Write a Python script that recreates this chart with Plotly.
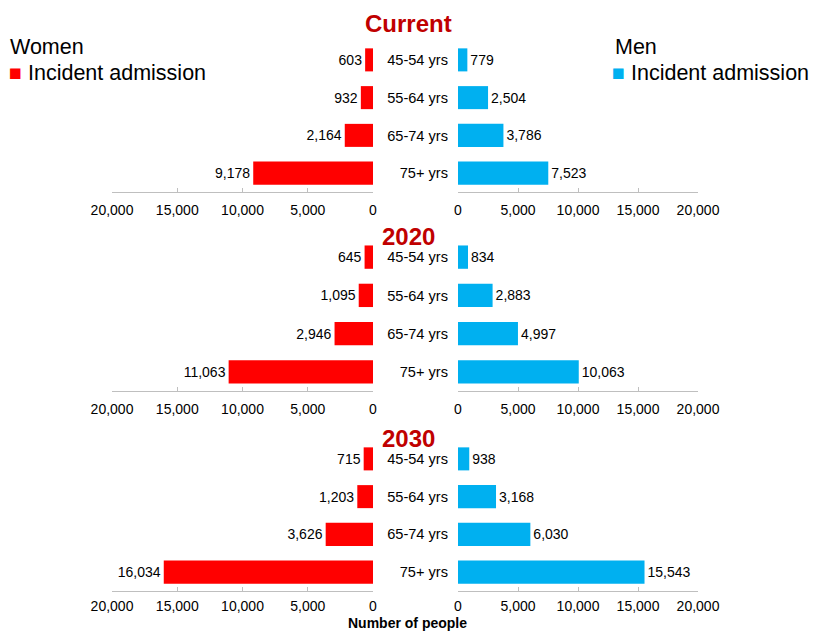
import plotly.graph_objects as go

ages = ["45-54 yrs", "55-64 yrs", "65-74 yrs", "75+ yrs"]
panels = ["Current", "2020", "2030"]
women = {
    "Current": [603, 932, 2164, 9178],
    "2020": [645, 1095, 2946, 11063],
    "2030": [715, 1203, 3626, 16034],
}
men = {
    "Current": [779, 2504, 3786, 7523],
    "2020": [834, 2883, 4997, 10063],
    "2030": [938, 3168, 6030, 15543],
}
tick_vals = [0, 5000, 10000, 15000, 20000]
tick_text = ["0", "5,000", "10,000", "15,000", "20,000"]

# page body has an 8px margin; figure is sized to fit inside the window
OFF = 8
W, H = 824 - 2 * OFF, 641 - 2 * OFF
RED = "#FF0000"
BLUE = "#00B0F0"
TITLE_RED = "#C00000"
FONT = "Liberation Sans, Arial, sans-serif"


def px(x):
    return (x - OFF) / W


def py(y):
    return 1 - (y - OFF) / H


# pixel bands (top, bottom) of each panel's plotting area (window coordinates)
bands = [(41, 192), (238, 391), (440, 591)]
left_dom = [px(112), px(373)]
right_dom = [px(458), px(698)]
title_top = [8, 221, 423]
standoffs = [5, 5, 2]

fig = go.Figure()
layout = dict(
    width=W, height=H,
    margin=dict(l=0, r=0, t=0, b=0, pad=0, autoexpand=False),
    paper_bgcolor="white", plot_bgcolor="white",
    font=dict(family=FONT, size=14, color="black"),
    showlegend=False,
    bargap=0.39,
    annotations=[],
)


def fmt(v):
    return f"{v:,}"


for i, p in enumerate(panels):
    top, bot = bands[i]
    ydom = [py(bot), py(top)]
    xl = f"x{2*i+1}" if i > 0 else "x"
    xr = f"x{2*i+2}"
    yl = f"y{2*i+1}" if i > 0 else "y"
    yr = f"y{2*i+2}"
    fig.add_trace(go.Bar(
        x=women[p], y=ages, orientation="h", xaxis=xl, yaxis=yl,
        marker=dict(color=RED, line=dict(width=0)),
        text=[fmt(v) for v in women[p]], textposition="outside",
        textfont=dict(size=14, color="black", family=FONT),
        cliponaxis=False, name="Incident admission",
    ))
    fig.add_trace(go.Bar(
        x=men[p], y=ages, orientation="h", xaxis=xr, yaxis=yr,
        marker=dict(color=BLUE, line=dict(width=0)),
        text=[fmt(v) for v in men[p]], textposition="outside",
        textfont=dict(size=14, color="black", family=FONT),
        cliponaxis=False, name="Incident admission",
    ))
    xaxis_common = dict(
        showgrid=False, zeroline=False, showline=True, linecolor="#BFBFBF",
        linewidth=1, ticks="inside", ticklen=4, tickcolor="#BFBFBF",
        tickvals=tick_vals, ticktext=tick_text, automargin=False,
        ticklabelstandoff=standoffs[i],
        tickfont=dict(size=14, color="black", family=FONT),
        fixedrange=True,
    )
    kxl = "xaxis" if i == 0 else f"xaxis{2*i+1}"
    kxr = f"xaxis{2*i+2}"
    kyl = "yaxis" if i == 0 else f"yaxis{2*i+1}"
    kyr = f"yaxis{2*i+2}"
    layout[kxl] = dict(xaxis_common, domain=left_dom, range=[20000, 0], anchor=yl)
    layout[kxr] = dict(xaxis_common, domain=right_dom, range=[0, 20000], anchor=yr)
    layout[kyl] = dict(domain=ydom, autorange="reversed", showticklabels=False,
                       showgrid=False, zeroline=False, showline=False, anchor=xl,
                       automargin=False,
                       categoryorder="array", categoryarray=ages)
    layout[kyr] = dict(domain=ydom, autorange="reversed", showticklabels=True,
                       showgrid=False, zeroline=False, showline=False, anchor=xr,
                       ticks="", ticklabelstandoff=9, automargin=False,
                       tickfont=dict(size=14.6, color="black", family=FONT),
                       categoryorder="array", categoryarray=ages)
    layout["annotations"].append(dict(
        text=f"<b>{p}</b>", xref="paper", yref="paper",
        x=px(408), y=py(title_top[i]), xanchor="center", yanchor="top",
        showarrow=False, font=dict(size=24, color=TITLE_RED, family=FONT),
    ))

# legends (as annotations)
LEG = 21.5
layout["annotations"] += [
    dict(text="Women", xref="paper", yref="paper", x=px(8), y=py(47),
         xanchor="left", yanchor="middle", showarrow=False,
         font=dict(size=LEG, color="black", family=FONT)),
    dict(text=f"<span style='color:{RED}'>■</span> Incident admission",
         xref="paper", yref="paper", x=px(7), y=py(73),
         xanchor="left", yanchor="middle", showarrow=False,
         font=dict(size=LEG, color="black", family=FONT)),
    dict(text="Men", xref="paper", yref="paper", x=px(613), y=py(47),
         xanchor="left", yanchor="middle", showarrow=False,
         font=dict(size=LEG, color="black", family=FONT)),
    dict(text=f"<span style='color:{BLUE}'>■</span> Incident admission",
         xref="paper", yref="paper", x=px(610), y=py(73),
         xanchor="left", yanchor="middle", showarrow=False,
         font=dict(size=LEG, color="black", family=FONT)),
    dict(text="<b>Number of people</b>", xref="paper", yref="paper",
         x=px(407), y=py(633), xanchor="center", yanchor="bottom",
         showarrow=False,
         font=dict(size=14, color="black", family=FONT)),
]

fig.update_layout(**layout)
fig.write_html("out.html")
